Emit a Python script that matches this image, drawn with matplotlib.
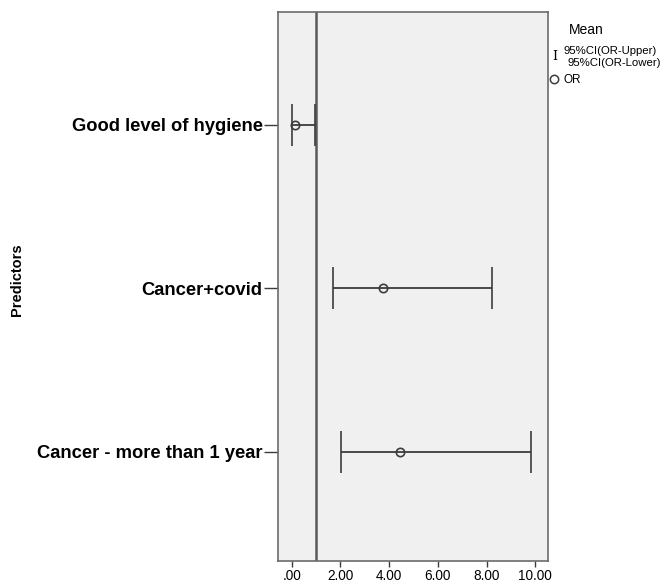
import matplotlib
matplotlib.use('Agg')
import matplotlib.pyplot as plt

# Odds ratios with 95% CI
predictors = ['Cancer - more than 1 year', 'Cancer+covid', 'Good level of hygiene']
odds_ratio = [4.45, 3.73, 0.14]
ci_lower = [2.01, 1.70, 0.02]
ci_upper = [9.82, 8.21, 0.96]
x_ticks = [0, 2, 4, 6, 8, 10]
x_tick_labels = ['.00', '2.00', '4.00', '6.00', '8.00', '10.00']

plt.rcParams['font.family'] = ['Liberation Sans', 'DejaVu Sans']

fig = plt.figure(figsize=(6.72, 5.84), dpi=100)
ax = fig.add_axes([278 / 672, 23 / 584, 270 / 672, 549 / 584])
ax.set_facecolor('#f0f0f0')

ypos = list(range(len(predictors)))
err_lo = [o - l for o, l in zip(odds_ratio, ci_lower)]
err_hi = [u - o for o, u in zip(odds_ratio, ci_upper)]

line_col = '#3c3c3c'
ax.axvline(1.0, color='#5a5a5a', lw=1.8, zorder=1)
ax.errorbar(odds_ratio, ypos, xerr=[err_lo, err_hi], fmt='o', mfc='none',
            mec=line_col, mew=1.2, ms=6, ecolor=line_col, elinewidth=1.3,
            capsize=14.8, capthick=1.3, zorder=3)

ax.set_xlim(-0.56, 10.52)
ax.set_ylim(-0.67, 2.69)
ax.set_xticks(x_ticks)
ax.set_xticklabels(x_tick_labels, fontsize=9.8)
ax.set_yticks(ypos)
ax.set_yticklabels(predictors, fontsize=13.2, fontweight='bold')
ax.tick_params(axis='y', length=10, width=1, color='#3c3c3c', pad=1)
ax.tick_params(axis='x', length=4, width=1, color='#3c3c3c', pad=1.5)
for s in ax.spines.values():
    s.set_color('#6b6b6b')
    s.set_linewidth(1.2)

fig.text(17 / 672, 1 - 280 / 584, 'Predictors', rotation=90, ha='center',
         va='center', fontsize=10.5, fontweight='bold')

# legend outside the plot
fig.text(586 / 672, 1 - 30 / 584, 'Mean', ha='center', va='center', fontsize=10)
fig.text(555 / 672, 1 - 57 / 584, 'I', ha='center', va='center', fontsize=9,
         family='DejaVu Serif')
fig.text(563 / 672, 1 - 51 / 584, '95%CI(OR-Upper)', ha='left', va='center', fontsize=8.2)
fig.text(567 / 672, 1 - 63 / 584, '95%CI(OR-Lower)', ha='left', va='center', fontsize=8.2)
fig.lines.append(plt.Line2D([554 / 672], [1 - 79 / 584], marker='o', mfc='none',
                            mec=line_col, mew=1.1, ms=6, transform=fig.transFigure))
fig.text(563 / 672, 1 - 80 / 584, 'OR', ha='left', va='center', fontsize=8.5)

fig.savefig('out.png', dpi=100)
